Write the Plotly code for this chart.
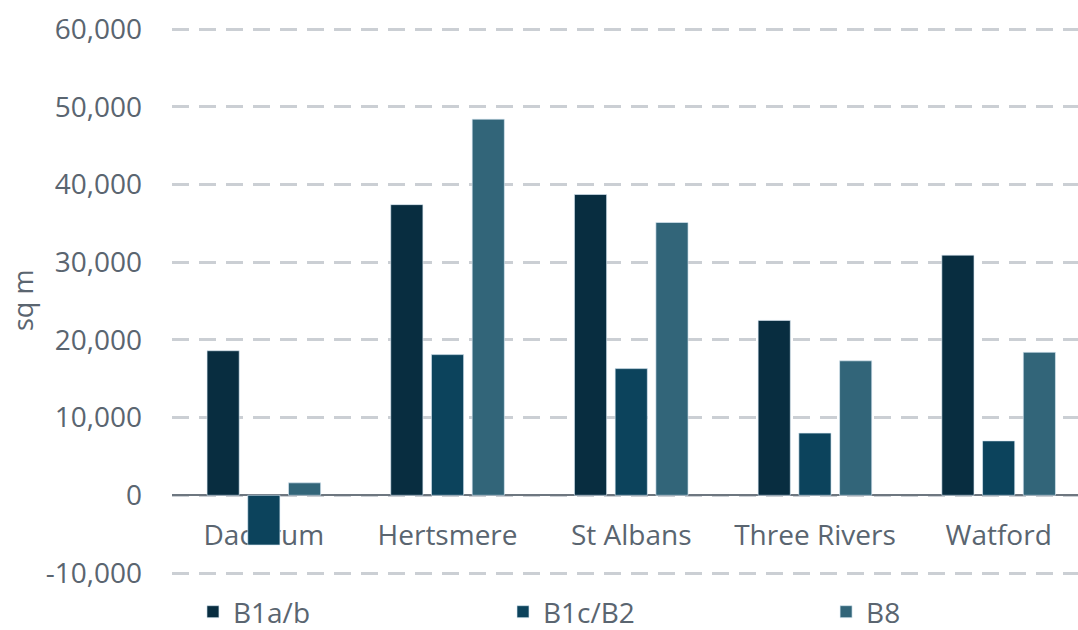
import plotly.graph_objects as go

categories = ["Dacorum", "Hertsmere", "St Albans", "Three Rivers", "Watford"]
b1ab = [18600, 37400, 38700, 22500, 30900]
b1cb2 = [-6400, 18100, 16300, 8000, 7000]
b8 = [1600, 48400, 35100, 17300, 18400]
series_names = ["B1a/b", "B1c/B2", "B8"]
series_colors = ["#082D40", "#0C435C", "#326579"]
y_ticks = [-10000, 0, 10000, 20000, 30000, 40000, 50000, 60000]
y_ticktext = ["-10,000", "0", "10,000", "20,000", "30,000", "40,000", "50,000", "60,000"]

text_color = "#5A6570"
font_family = "Open Sans"
legend_ids = ["legend", "legend2", "legend3"]
legend_x = [0.1790, 0.4666, 0.7663]

fig = go.Figure()
for name, vals, col, lid in zip(series_names, [b1ab, b1cb2, b8], series_colors, legend_ids):
    fig.add_trace(go.Bar(
        x=categories, y=vals, name=name, legend=lid,
        marker=dict(color=col, line=dict(color="rgba(220,235,245,0.8)", width=0.8)),
    ))

# pixel positions of 60,000 and -10,000 in the reference
px_60k, px_m10k = 29, 573
per_px = 70000 / (px_m10k - px_60k)
pad_px = 3
y_lo, y_hi = -10000 - pad_px * per_px, 60000 + pad_px * per_px

legend_common = dict(
    orientation="h", xref="container", yref="container", xanchor="left",
    y=(630 - 612) / 630, yanchor="middle",
    font=dict(size=28, color=text_color), bgcolor="rgba(0,0,0,0)",
)

fig.update_layout(
    width=1078, height=630,
    margin=dict(l=172, r=0, t=px_60k - pad_px, b=630 - (px_m10k + pad_px), autoexpand=False),
    paper_bgcolor="white", plot_bgcolor="white",
    barmode="group", bargap=0.335, bargroupgap=0.21,
    font=dict(family=font_family, size=28, color=text_color),
    showlegend=True,
    legend=dict(x=legend_x[0], **legend_common),
    legend2=dict(x=legend_x[1], **legend_common),
    legend3=dict(x=legend_x[2], **legend_common),
    annotations=[dict(
        text="sq m", textangle=-90, xref="paper", yref="paper",
        x=(22 - 172) / 906, y=0.5, xanchor="center", yanchor="middle",
        showarrow=False, font=dict(size=27, color=text_color),
    )],
)

fig.update_yaxes(
    range=[y_lo, y_hi], tickvals=y_ticks, ticktext=y_ticktext,
    showgrid=True, gridcolor="#CBCFD4", gridwidth=3, griddash="17px,10px",
    zeroline=False, showline=False, ticks="",
    ticklabelstandoff=29,
)

fig.update_xaxes(
    range=[-0.5, 4.432], anchor="free", position=(0 - y_lo) / (y_hi - y_lo),
    showline=True, linecolor="#6E7780", linewidth=2,
    showgrid=False, ticks="", ticklabelstandoff=15, layer="below traces",
)

fig.write_html(
    "out.html",
    config={"displayModeBar": False},
    post_script="document.body.style.margin='0';document.body.style.overflow='hidden';",
)
